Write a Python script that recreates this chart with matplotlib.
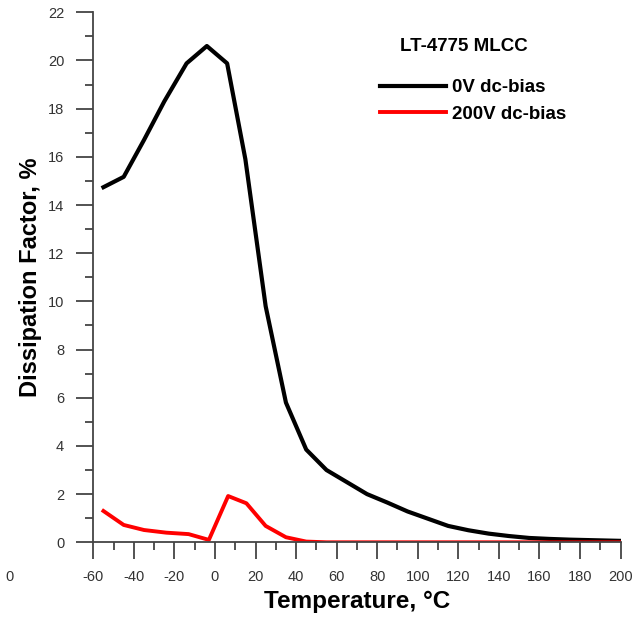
import matplotlib
matplotlib.use("Agg")
import matplotlib.pyplot as plt
from matplotlib.ticker import MultipleLocator

plt.rcParams['font.family'] = ['Liberation Sans', 'DejaVu Sans']
plt.rcParams['axes.unicode_minus'] = False

# Data
temp_0v = [-55, -45, -35, -25, -14, -4, 6, 15, 25, 35, 45, 55, 65, 75, 85, 95,
           105, 115, 125, 135, 145, 155, 165, 175, 185, 200]
df_0v = [14.74, 15.17, 16.7, 18.3, 19.88, 20.6, 19.88, 15.9, 9.8, 5.8, 3.85, 3.0,
         2.5, 2.0, 1.65, 1.28, 0.98, 0.68, 0.5, 0.36, 0.26, 0.18, 0.14, 0.11, 0.09, 0.06]

temp_200v = [-55, -45, -35, -24, -13, -3, 6.5, 15.5, 25, 35, 45, 55, 80, 120, 160, 200]
df_200v = [1.30, 0.72, 0.51, 0.40, 0.34, 0.10, 1.92, 1.62, 0.68, 0.21, 0.03, 0.0,
           0.0, 0.0, 0.0, 0.0]

x_ticks = [-60, -40, -20, 0, 20, 40, 60, 80, 100, 120, 140, 160, 180, 200]
y_ticks = [0, 2, 4, 6, 8, 10, 12, 14, 16, 18, 20, 22]

fig = plt.figure(figsize=(6.44, 6.19), dpi=100)
ax = fig.add_axes([93.3/644, 1-542.3/619, (620.5-93.3)/644, (542.3-12.3)/619])

ax.plot(temp_0v, df_0v, color='black', lw=3.0, solid_joinstyle='round', label='0V dc-bias')
ax.plot(temp_200v, df_200v, color='#ff0000', lw=2.8, solid_joinstyle='round', label='200V dc-bias')

ax.set_xlim(-60, 200)
ax.set_ylim(0, 22)
ax.set_xticks(x_ticks)
ax.set_yticks(y_ticks)
ax.xaxis.set_minor_locator(MultipleLocator(10))
ax.yaxis.set_minor_locator(MultipleLocator(1))

spine_col = '#444444'
for s in ['top', 'right']:
    ax.spines[s].set_visible(False)
for s in ['left', 'bottom']:
    ax.spines[s].set_color(spine_col)
    ax.spines[s].set_linewidth(1.3)

ax.tick_params(axis='both', which='major', direction='out', length=12, width=1.3,
               color=spine_col, labelsize=10.5, labelcolor='#333333')
ax.tick_params(axis='both', which='minor', direction='out', length=6, width=1.3,
               color=spine_col)
ax.tick_params(axis='x', which='major', pad=8)
ax.tick_params(axis='y', which='major', pad=9)

ax.set_xlabel('Temperature, °C', fontsize=17.5, fontweight='bold', labelpad=4)
ax.set_ylabel('Dissipation Factor, %', fontsize=17, fontweight='bold', labelpad=4)

ax.text(0.582, 0.935, 'LT-4775 MLCC', transform=ax.transAxes, fontsize=13.5,
        fontweight='bold', ha='left', va='center')
leg = ax.legend(loc='upper left', bbox_to_anchor=(0.53, 0.888), frameon=False,
                prop={'weight': 'bold', 'size': 13.5}, handlelength=3.5,
                handletextpad=0.35, labelspacing=0.5, borderaxespad=0)

fig.text(5/644, 1-577/619, '0', fontsize=10.5, color='#333333', ha='left', va='center')

fig.savefig('out.png', dpi=100)
